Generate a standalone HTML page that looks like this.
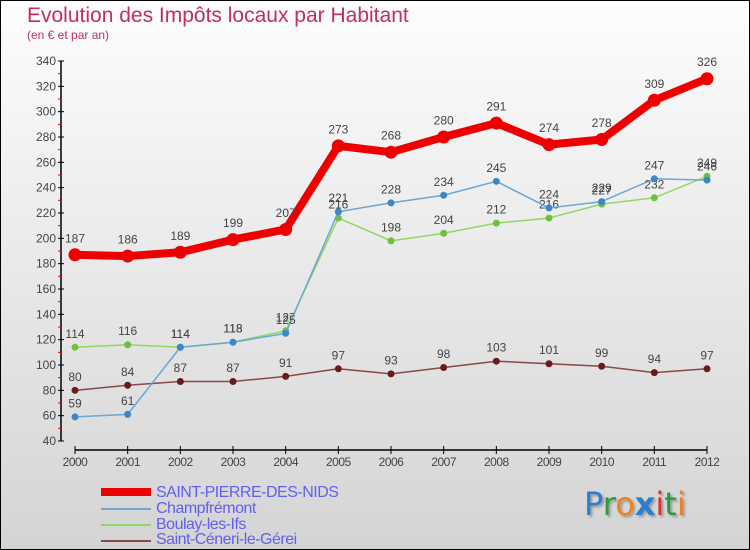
<!DOCTYPE html>
<html><head><meta charset="utf-8"><style>
body{margin:0}
#c{position:relative;width:750px;height:550px;box-sizing:border-box;border:1px solid #000;background:linear-gradient(#fdfdfd,#d4d4d4);font-family:"Liberation Sans",sans-serif;overflow:hidden}
.t{position:absolute;color:#c0305a}
.lg{position:absolute;left:155px;font-size:16px;color:#6060ee;letter-spacing:-0.5px}
.sw{position:absolute;left:100px;width:50px}
</style></head><body>
<div id="c">
<div class="t" style="left:26px;top:3px;font-size:21px">Evolution des Impôts locaux par Habitant</div>
<div class="t" style="left:26px;top:27px;font-size:12px">(en € et par an)</div>
<svg id="s" width="750" height="550" style="position:absolute;left:-1px;top:-1px"></svg>
<div class="sw" style="top:487px;height:8px;background:#e00"></div>
<div class="lg" style="top:483px">SAINT-PIERRE-DES-NIDS</div>
<div class="sw" style="top:507px;height:2px;background:#6aa6d6"></div>
<div class="lg" style="top:499px">Champfrémont</div>
<div class="sw" style="top:523px;height:2px;background:#90d860"></div>
<div class="lg" style="top:515px">Boulay-les-Ifs</div>
<div class="sw" style="top:539px;height:2px;background:#8a4848"></div>
<div class="lg" style="top:530px">Saint-Céneri-le-Gérei</div>
<div style="position:absolute;left:583px;top:484px;font-size:32px;font-family:'DejaVu Sans',sans-serif;text-shadow:2px 2px 2px #999"><span style="color:#2a7fd0">P</span><span style="color:#2a9a3a">r</span><span style="color:#f08020">o</span><span style="color:#2a7fd0;font-weight:bold">x</span><span style="color:#e03030">i</span><span style="color:#2a9a3a">t</span><span style="color:#f08020">i</span></div>
</div>
<script>
const years=[2000,2001,2002,2003,2004,2005,2006,2007,2008,2009,2010,2011,2012];
const yTicks=[40,60,80,100,120,140,160,180,200,220,240,260,280,300,320,340];
const spdn=[187,186,189,199,207,273,268,280,291,274,278,309,326];
const champ=[59,61,114,118,125,221,228,234,245,224,229,247,246];
const boulay=[114,116,114,118,127,216,198,204,212,216,227,232,249];
const stc=[80,84,87,87,91,97,93,98,103,101,99,94,97];
const NS='http://www.w3.org/2000/svg',svg=document.getElementById('s');
const X=i=>75+i*(632/12), Y=v=>441-(v-40)*(380/300);
function mk(t,a,n){const e=document.createElementNS(NS,t);for(const k in a)e.setAttribute(k,a[k]);svg.appendChild(e);return e;}
mk('line',{x1:61,y1:61,x2:61,y2:441,stroke:'#000','stroke-width':1.5},'y-axis');
mk('line',{x1:75,y1:450,x2:707,y2:450,stroke:'#000','stroke-width':1.5},'x-axis');
yTicks.forEach((v,i)=>{const y=Y(v);mk('line',{x1:58,y1:y,x2:64,y2:y,stroke:'#000'},'y-tick');
const t=mk('text',{x:56,y:y+4,'text-anchor':'end','font-size':12,fill:'#444','font-family':'Liberation Sans'},'y-tick-label');t.textContent=v;
if(i<yTicks.length-1){const y2=Y(v+10);mk('line',{x1:58,y1:y2,x2:61,y2:y2,stroke:'#e00'},'y-minor-tick');}});
years.forEach((yr,i)=>{const x=X(i);mk('line',{x1:x,y1:446,x2:x,y2:454,stroke:'#000'},'x-tick');
const t=mk('text',{x:x,y:466,'text-anchor':'middle','font-size':12,fill:'#444','font-family':'Liberation Sans','letter-spacing':'-0.5'},'x-tick-label');t.textContent=yr;});
function series(d,col,w,r,name,dotcol){
mk('polyline',{points:d.map((v,i)=>X(i)+','+Y(v)).join(' '),fill:'none',stroke:col,'stroke-width':w,'stroke-linejoin':'round'},name+'-line');
d.forEach((v,i)=>{mk('circle',{cx:X(i),cy:Y(v),r:r,fill:dotcol},name+'-point');
const t=mk('text',{x:X(i),y:Y(v)-(r+6),'text-anchor':'middle','font-size':12,fill:'#444','font-family':'Liberation Sans'},name+'-value');t.textContent=v;});}
series(stc,'#8a4848',1.5,3.5,'saint-ceneri','#6a1a1a');
series(boulay,'#90d860',1.5,3.5,'boulay','#70c040');
series(champ,'#6aa6d6',1.5,3.5,'champfremont','#3a86c6');
series(spdn,'#e00',8,6.5,'saint-pierre','#e00');
</script>
</body></html>
